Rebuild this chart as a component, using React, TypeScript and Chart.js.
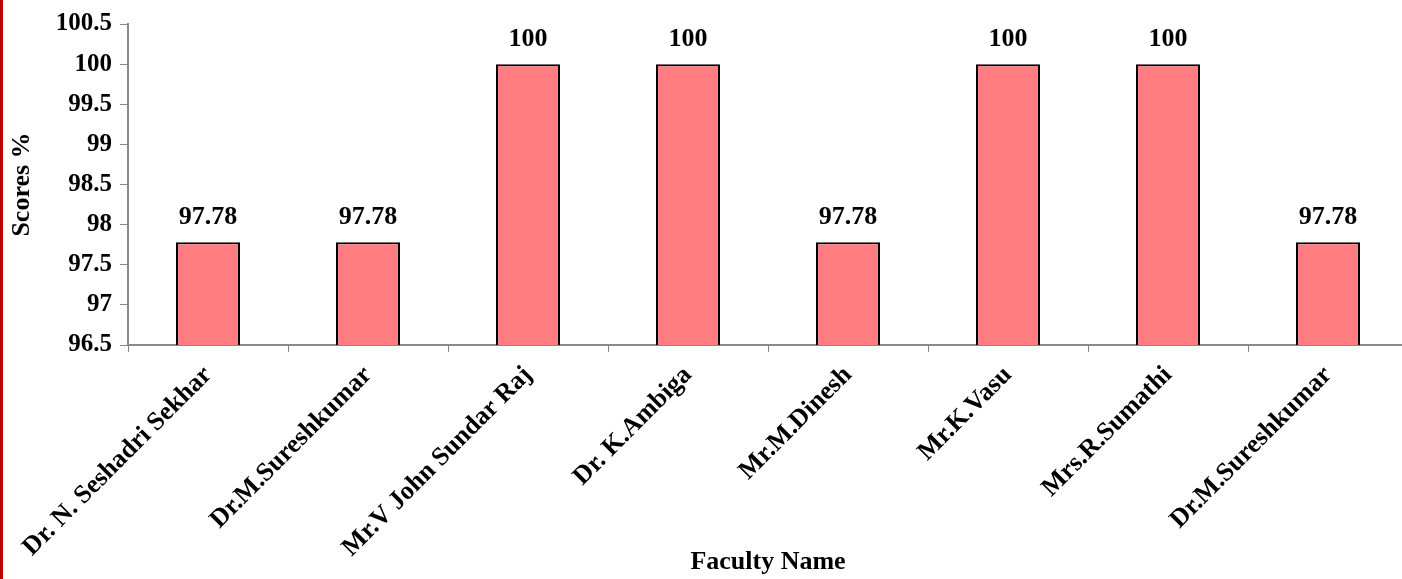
import React, { useEffect, useRef } from "react";
import { Chart, registerables } from "chart.js";

Chart.register(...registerables);

const categories: string[] = [
  "Dr. N. Seshadri Sekhar",
  "Dr.M.Sureshkumar",
  "Mr.V John Sundar Raj",
  "Dr. K.Ambiga",
  "Mr.M.Dinesh",
  "Mr.K.Vasu",
  "Mrs.R.Sumathi",
  "Dr.M.Sureshkumar",
];
const scores: number[] = [97.78, 97.78, 100, 100, 97.78, 100, 100, 97.78];
const yMin = 96.5;
const yMax = 100.5;
const yStep = 0.5;

const FONT = "'Liberation Serif', 'Times New Roman', serif";

const dataLabelPlugin = {
  id: "dataLabels",
  afterDatasetsDraw(chart: any) {
    const ctx = chart.ctx;
    const meta = chart.getDatasetMeta(0);
    ctx.save();
    ctx.font = `bold 26px ${FONT}`;
    ctx.fillStyle = "#000";
    ctx.textAlign = "center";
    ctx.textBaseline = "alphabetic";
    meta.data.forEach((bar: any, i: number) => {
      const v = chart.data.datasets[0].data[i];
      ctx.fillText(String(v), bar.x, bar.y - 18);
    });
    ctx.restore();
  },
};

export default function App() {
  const ref = useRef<HTMLCanvasElement | null>(null);
  useEffect(() => {
    document.body.style.margin = "0";
    if (!ref.current) return;
    const chart = new Chart(ref.current, {
      type: "bar",
      data: {
        labels: categories,
        datasets: [
          {
            data: scores,
            backgroundColor: "#FF7C80",
            borderColor: "#000000",
            borderWidth: 2,
            barPercentage: 0.4,
            categoryPercentage: 1,
          },
        ],
      },
      plugins: [dataLabelPlugin],
      options: {
        responsive: false,
        animation: false,
        layout: { padding: { top: 24, right: 4, left: 0, bottom: 0 } },
        plugins: {
          legend: { display: false },
          tooltip: { enabled: false },
          title: { display: false },
        },
        scales: {
          x: {
            grid: {
              drawOnChartArea: false,
              drawTicks: true,
              tickLength: 7,
              color: "#888888",
              offset: true,
            },
            border: { color: "#888888", width: 2 },
            ticks: {
              autoSkip: false,
              minRotation: 45,
              maxRotation: 45,
              padding: 8,
              color: "#000",
              font: { family: FONT, size: 26, weight: "bold" },
            },
            title: {
              display: true,
              text: "Faculty Name",
              color: "#000",
              font: { family: FONT, size: 26, weight: "bold" },
              padding: { top: 0, bottom: 1 },
            },
            afterFit(scale: any) {
              scale.height = 579 - 345;
            },
          },
          y: {
            min: yMin,
            max: yMax,
            grid: {
              drawOnChartArea: false,
              drawTicks: true,
              tickLength: 8,
              color: "#888888",
            },
            border: { color: "#888888", width: 2 },
            ticks: {
              stepSize: yStep,
              padding: 8,
              color: "#000",
              font: { family: FONT, size: 25, weight: "bold" },
              callback: (v: any) => String(Math.round(Number(v) * 10) / 10),
            },
            title: {
              display: true,
              text: "Scores %",
              color: "#000",
              font: { family: FONT, size: 26, weight: "bold" },
              padding: { top: 7, bottom: 0 },
            },
            afterFit(scale: any) {
              scale.width = 128;
            },
          },
        },
      },
    });
    return () => chart.destroy();
  }, []);
  return (
    <div style={{ position: "relative", width: 1402, height: 579, overflow: "hidden", background: "#fff" }}>
      <canvas ref={ref} width={1412} height={579} style={{ display: "block" }} />
      <div style={{ position: "absolute", left: 0, top: 0, width: 3, height: 579, background: "#C00000" }} />
    </div>
  );
}
